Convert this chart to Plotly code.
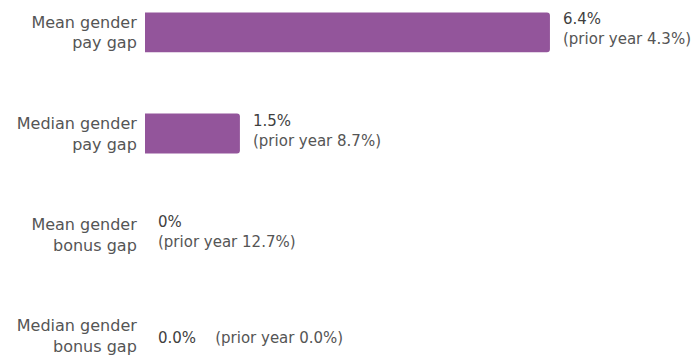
import plotly.graph_objects as go

categories = ["Mean gender<br>pay gap", "Median gender<br>pay gap",
              "Mean gender<br>bonus gap", "Median gender<br>bonus gap"]
values = [6.4, 1.5, 0.0, 0.0]
value_labels = ["6.4%", "1.5%", "0%", "0.0%"]
prior_labels = ["4.3%", "8.7%", "12.7%", "0.0%"]
inline_row = [False, False, False, True]

FONT = "DejaVu Sans"
BAR = "#93559b"

fig = go.Figure()
fig.add_trace(go.Bar(
    y=list(range(len(categories))), x=values, orientation="h",
    marker=dict(color=BAR, line=dict(width=0)), width=0.395,
    hoverinfo="skip",
))

for i, (v, vl, pl, inl) in enumerate(zip(values, value_labels, prior_labels, inline_row)):
    if inl:
        txt = f"<span style='color:#3f3f3f'>{vl}</span>&nbsp;&nbsp;&nbsp;&nbsp;(prior year {pl})"
        yshift = -2
    else:
        txt = f"<span style='color:#3f3f3f'>{vl}</span><br>(prior year {pl})"
        yshift = 3
    fig.add_annotation(
        x=v, y=i, xref="x", yref="y", text=txt, showarrow=False,
        xanchor="left", yanchor="middle", align="left",
        xshift=11, yshift=yshift,
        font=dict(family=FONT, size=15, color="#555555"),
    )

fig.update_layout(
    width=698, height=356,
    margin=dict(l=145, r=0, t=0, b=0),
    paper_bgcolor="white", plot_bgcolor="white",
    showlegend=False, barcornerradius=3,
    xaxis=dict(range=[0, 8.74], visible=False, fixedrange=True),
    yaxis=dict(
        range=[3.15, -0.32], tickmode="array",
        tickvals=list(range(len(categories))), ticktext=categories,
        showgrid=False, zeroline=False, showline=False,
        ticks="outside", ticklen=4, tickcolor="rgba(0,0,0,0)",
        ticklabeloverflow="allow",
        tickfont=dict(family=FONT, size=16, color="#555555"),
    ),
)

fig.write_html("out.html")
